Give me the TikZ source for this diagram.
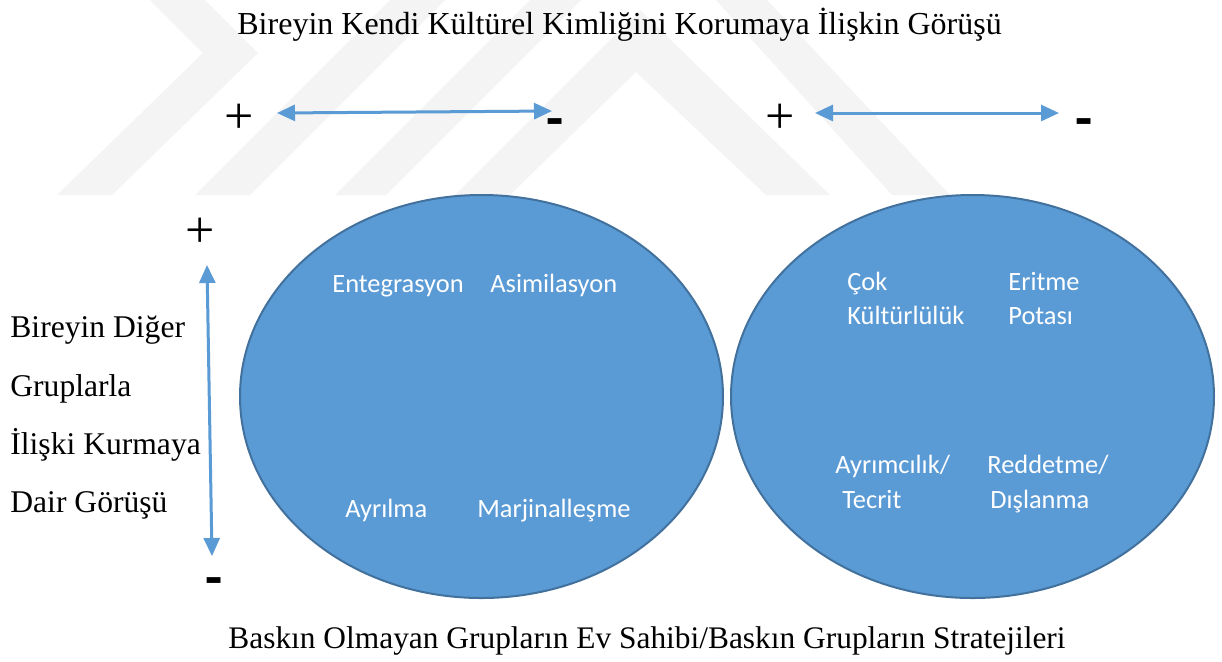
\documentclass[tikz,border=0pt]{standalone}
\usepackage{fontspec}
\setmainfont{Liberation Serif}
\newfontfamily\calibrifont{Carlito}
\usetikzlibrary{arrows.meta,shapes.geometric}
\definecolor{blobfill}{HTML}{5B9BD5}
\definecolor{blobline}{HTML}{41719C}
\definecolor{arrowblue}{HTML}{5B9BD5}
\definecolor{wmark}{HTML}{F4F4F4}
\tikzset{
  serif/.style={inner sep=0pt, anchor=base west, font=\fontsize{15.8pt}{18pt}\selectfont},
  whitelbl/.style={inner sep=0pt, anchor=base west, text=white, font=\calibrifont\fontsize{13.2pt}{15pt}\selectfont},
  plussign/.style={inner sep=0pt, font=\fontsize{26pt}{28pt}\selectfont},
  minussign/.style={inner sep=0pt, font=\calibrifont\bfseries\fontsize{28pt}{30pt}\selectfont},
  blob/.style={ellipse, draw=blobline, fill=blobfill, line width=1pt, inner sep=0pt,
    minimum width=241.5pt, minimum height=201.5pt},
  dblarrow/.style={arrowblue, line width=1.5pt, {Triangle[length=9pt,width=8pt]}-{Triangle[length=9pt,width=8pt]}},
  wm/.style={fill=wmark, draw=none}
}
\begin{document}
\begin{tikzpicture}[x=0.5pt,y=-0.5pt]
\useasboundingbox (0,0) rectangle (1222,661);
\fill[white] (0,0) rectangle (1222,661);
% faint watermark
\fill[wm] (150,0) -- (205,0) -- (258,53) -- (112,195) -- (57,195) -- (203,53) -- cycle;
\fill[wm] (390,0) -- (445,0) -- (250,195) -- (195,195) -- cycle;
\fill[wm] (530,0) -- (581,0) -- (386,195) -- (335,195) -- cycle;
\fill[wm] (455,195) -- (640,10) -- (830,195) -- (766,195) -- (636,72) -- (510,195) -- cycle;
\fill[wm] (716,0) -- (767,0) -- (950,195) -- (892,195) -- cycle;

% titles
\node[serif, font=\fontsize{16pt}{18pt}\selectfont] (title) at (237,34) {Bireyin Kendi Kültürel Kimliğini Korumaya İlişkin Görüşü};
\node[serif, font=\fontsize{15.7pt}{18pt}\selectfont] (bottom) at (228,648) {Baskın Olmayan Grupların Ev Sahibi/Baskın Grupların Stratejileri};

% left labels
\node[serif] (l1) at (10,337) {Bireyin Diğer};
\node[serif] (l2) at (10,396) {Gruplarla};
\node[serif] (l3) at (10,454) {İlişki Kurmaya};
\node[serif] (l4) at (10,512) {Dair Görüşü};

% ellipses
\node[blob] (e1) at (481.5,396.5) {};
\node[blob] (e2) at (972.5,396.5) {};

% signs
\node[plussign] (p1) at (239,119) {+};
\node[minussign] (m1) at (555,128) {-};
\node[plussign] (p2) at (780,119) {+};
\node[minussign] (m2) at (1084,128) {-};
\node[plussign] (p3) at (200,233) {+};
\node[minussign] (m3) at (214,587) {-};

% arrows
\coordinate (a1l) at (277,113);
\coordinate (a1r) at (552,111);
\coordinate (a2l) at (815,113);
\coordinate (a2r) at (1059,113);
\coordinate (a3t) at (207,265);
\coordinate (a3b) at (212,556);
\draw[dblarrow] (a1l) -- (a1r);
\draw[dblarrow] (a2l) -- (a2r);
\draw[dblarrow] (a3t) -- (a3b);

% ellipse 1 labels
\node[whitelbl] (t1) at (332,292) {Entegrasyon};
\node[whitelbl] (t2) at (490,292) {Asimilasyon};
\node[whitelbl] (t3) at (345,517) {Ayrılma};
\node[whitelbl] (t4) at (477,517) {Marjinalleşme};

% ellipse 2 labels
\node[whitelbl] (u1) at (847,290) {Çok};
\node[whitelbl] (u2) at (847,324) {Kültürlülük};
\node[whitelbl] (u3) at (1008,290) {Eritme};
\node[whitelbl] (u4) at (1008,324) {Potası};
\node[whitelbl] (u5) at (835,473) {Ayrımcılık/};
\node[whitelbl] (u6) at (842,508) {Tecrit};
\node[whitelbl] (u7) at (987,473) {Reddetme/};
\node[whitelbl] (u8) at (990,508) {Dışlanma};
\end{tikzpicture}
\end{document}
